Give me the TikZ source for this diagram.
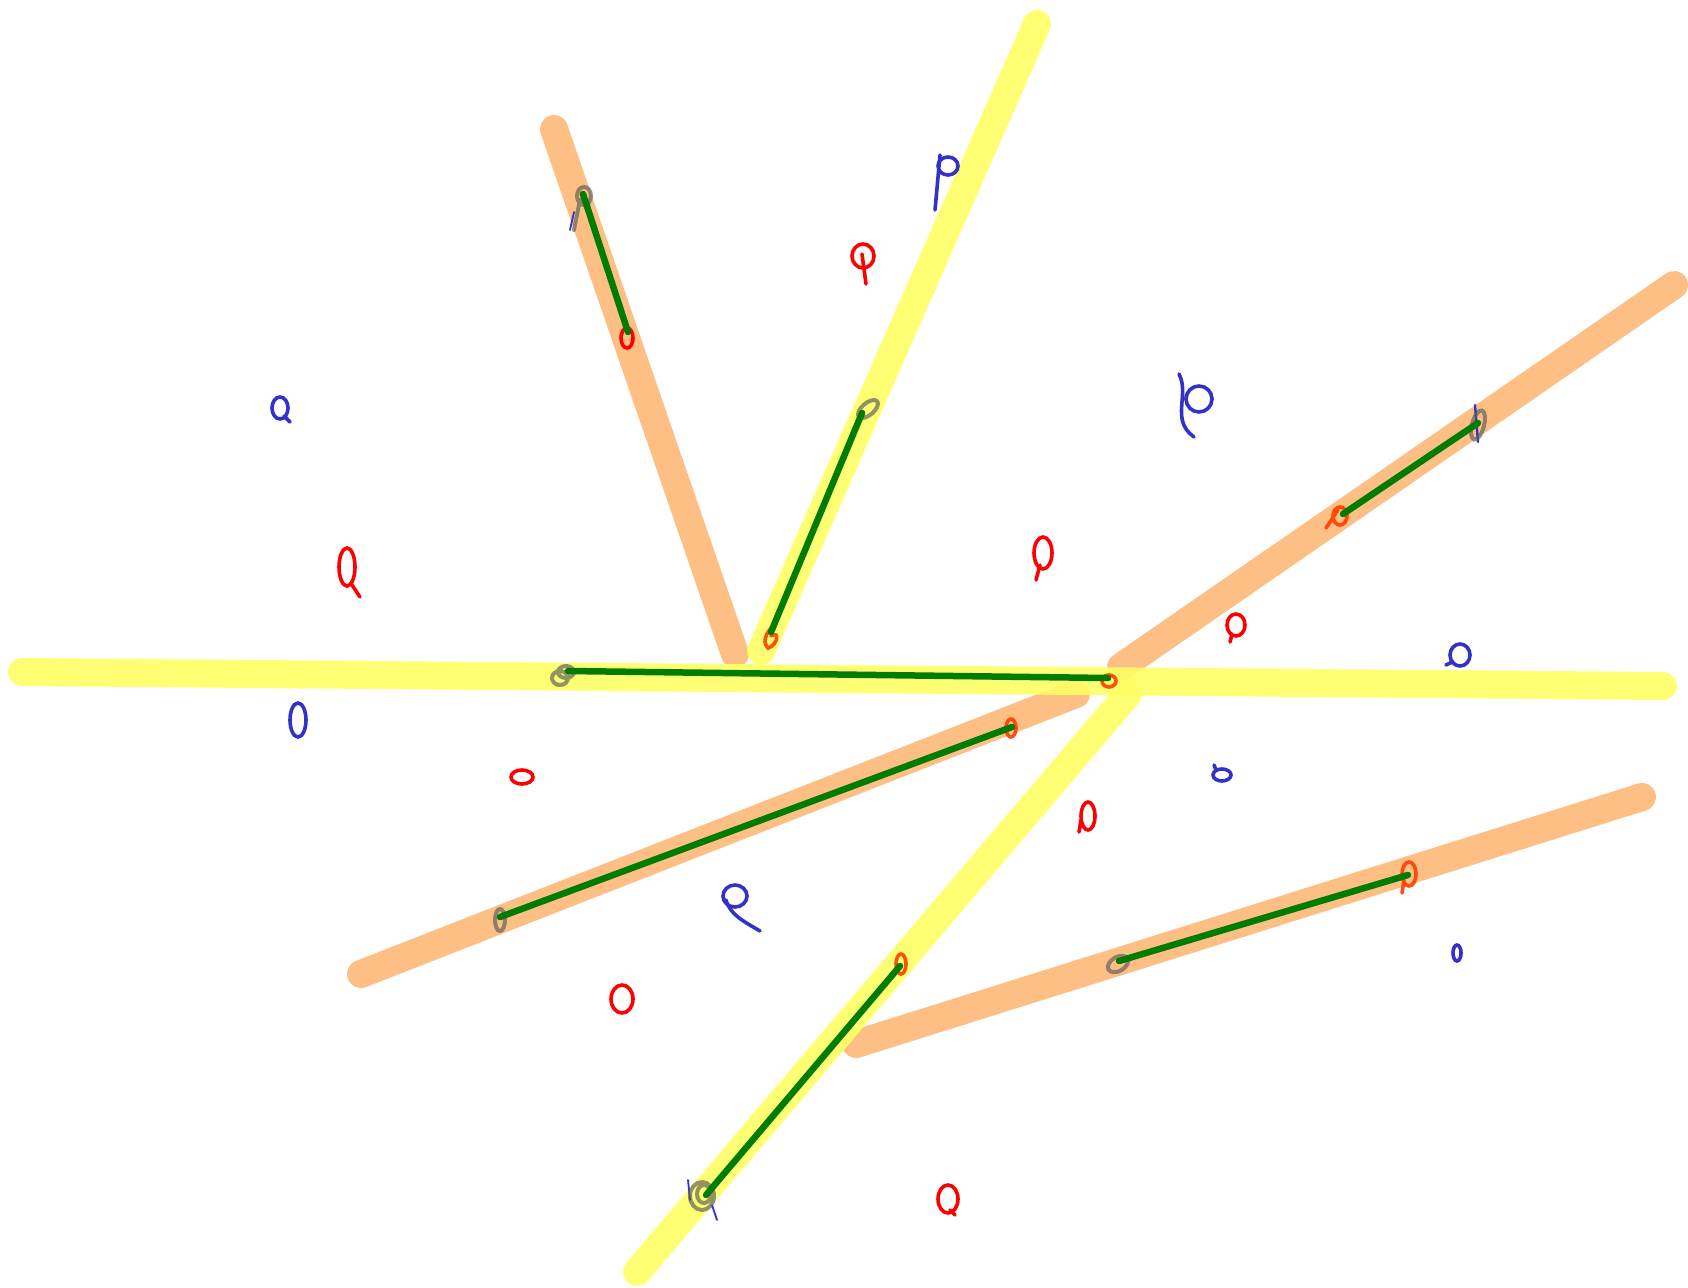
\documentclass[tikz,border=0pt]{standalone}
\begin{document}
\begin{tikzpicture}[x=1pt,y=-1pt,
  band/.style={line width=28pt,line cap=round},
  yband/.style={band,draw={rgb,255:red,255;green,255;blue,100},opacity=0.9},
  oband/.style={band,draw={rgb,255:red,253;green,180;blue,110},opacity=0.85},
  gline/.style={line width=6.5pt,line cap=round,draw={rgb,255:red,0;green,125;blue,0}},
  rmark/.style={line width=3.6pt,draw=red,line cap=round},
  bmark/.style={line width=3.6pt,draw={rgb,255:red,50;green,50;blue,200},line cap=round},
  gmark/.style={line width=4pt,draw={rgb,255:red,90;green,90;blue,90},opacity=0.65,line cap=round},
  omark/.style={line width=3.6pt,draw={rgb,255:red,255;green,60;blue,0},opacity=0.9,line cap=round}]
\useasboundingbox (0,0) rectangle (1688,1287);
\fill[white] (0,0) rectangle (1688,1287);
% bands
\draw[oband] (554,129) -- (735,654);
\draw[oband] (1121,667) -- (1674,285);
\draw[oband] (1076,694) -- (361,974);
\draw[oband] (856,1044) -- (1642,797);
\draw[yband] (22,672) -- (1663,686);
\draw[yband] (1037,24) -- (761,651);
\draw[yband] (1128,694) -- (637,1272);
% endpoint coordinates
\coordinate (a1) at (583,194); \coordinate (a2) at (628,332);
\coordinate (b1) at (862,413); \coordinate (b2) at (771,632);
\coordinate (c1) at (568,671); \coordinate (c2) at (1108,678);
\coordinate (d1) at (1343,514); \coordinate (d2) at (1478,423);
\coordinate (e1) at (1012,727); \coordinate (e2) at (500,917);
\coordinate (f1) at (1119,961); \coordinate (f2) at (1408,875);
\coordinate (g1) at (900,966); \coordinate (g2) at (706,1195);
% endpoint marks
\draw[gmark] (584,196) ellipse [x radius=7,y radius=9] (580,200) -- (574,230);
\draw[bmark,line width=1.8pt] (574,212) -- (570,230);
\draw[rmark] (627,338) ellipse [x radius=6,y radius=10];
\draw[gmark,rotate around={40:(868,409)}] (868,409) ellipse [x radius=12,y radius=6];
\draw[omark] (771,636) .. controls (780,630) and (778,645) .. (768,648) .. controls (760,640) and (770,628) .. (775,625);
\draw[gmark] (560,678) ellipse [x radius=8,y radius=7] (566,672) ellipse [x radius=8,y radius=6];
\draw[omark] (1109,681) ellipse [x radius=7,y radius=6];
\draw[omark] (1340,516) ellipse [x radius=7,y radius=9] (1338,510) -- (1326,528);
\draw[bmark,line width=2.4pt] (1475,405) -- (1478,442);
\draw[gmark,rotate around={-15:(1478,425)}] (1478,425) ellipse [x radius=6,y radius=15];
\draw[omark] (1011,728) ellipse [x radius=5,y radius=9];
\draw[gmark] (500,920) ellipse [x radius=5,y radius=11];
\draw[gmark,rotate around={30:(1118,964)}] (1118,964) ellipse [x radius=11,y radius=7];
\draw[omark] (1409,874) ellipse [x radius=7,y radius=12] (1404,880) -- (1402,893);
\draw[omark] (901,964) ellipse [x radius=5,y radius=10];
\draw[bmark,line width=1.8pt] (688,1180) -- (690,1200) (712,1205) -- (717,1220);
\draw[gmark] (702,1196) ellipse [x radius=12,y radius=14] (704,1194) ellipse [x radius=7,y radius=9];
% green connectors
\draw[gline] (a1) -- (a2);
\draw[gline] (b1) -- (b2);
\draw[gline] (c1) -- (c2);
\draw[gline] (d1) -- (d2);
\draw[gline] (e1) -- (e2);
\draw[gline] (f1) -- (f2);
\draw[gline] (g1) -- (g2);
% free red marks
\draw[rmark] (863,256) ellipse [x radius=11,y radius=12] (862,254) -- (866,284);
\draw[rmark] (347,567) ellipse [x radius=8,y radius=19] (352,585) -- (360,597);
\draw[rmark] (1043,553) ellipse [x radius=9,y radius=16] (1040,565) -- (1036,580);
\draw[rmark] (1236,625) ellipse [x radius=9,y radius=11] (1232,634) -- (1230,642);
\draw[rmark] (522,777) ellipse [x radius=11,y radius=7];
\draw[rmark] (1088,816) ellipse [x radius=7,y radius=14] (1081,820) -- (1079,832);
\draw[rmark] (622,999) ellipse [x radius=11,y radius=14];
\draw[rmark] (948,1199) ellipse [x radius=10,y radius=14] (950,1210) -- (955,1215);
% free blue marks
\draw[bmark] (948,166) ellipse [x radius=10,y radius=9] (940,155) -- (935,210);
\draw[bmark] (280,408) ellipse [x radius=8,y radius=11] (284,416) -- (290,422);
\draw[bmark] (1199,399) ellipse [x radius=13,y radius=13] (1179,374) .. controls (1190,395) and (1170,420) .. (1194,437);
\draw[bmark] (1460,655) ellipse [x radius=10,y radius=11] (1452,662) -- (1446,665);
\draw[bmark] (298,720) ellipse [x radius=8,y radius=17];
\draw[bmark] (1222,775) ellipse [x radius=9,y radius=6] (1214,765) -- (1216,770);
\draw[bmark] (735,896) ellipse [x radius=12,y radius=11] (726,900) .. controls (730,915) and (745,922) .. (760,931);
\draw[bmark] (1457,953) ellipse [x radius=4,y radius=8];
\end{tikzpicture}
\end{document}
